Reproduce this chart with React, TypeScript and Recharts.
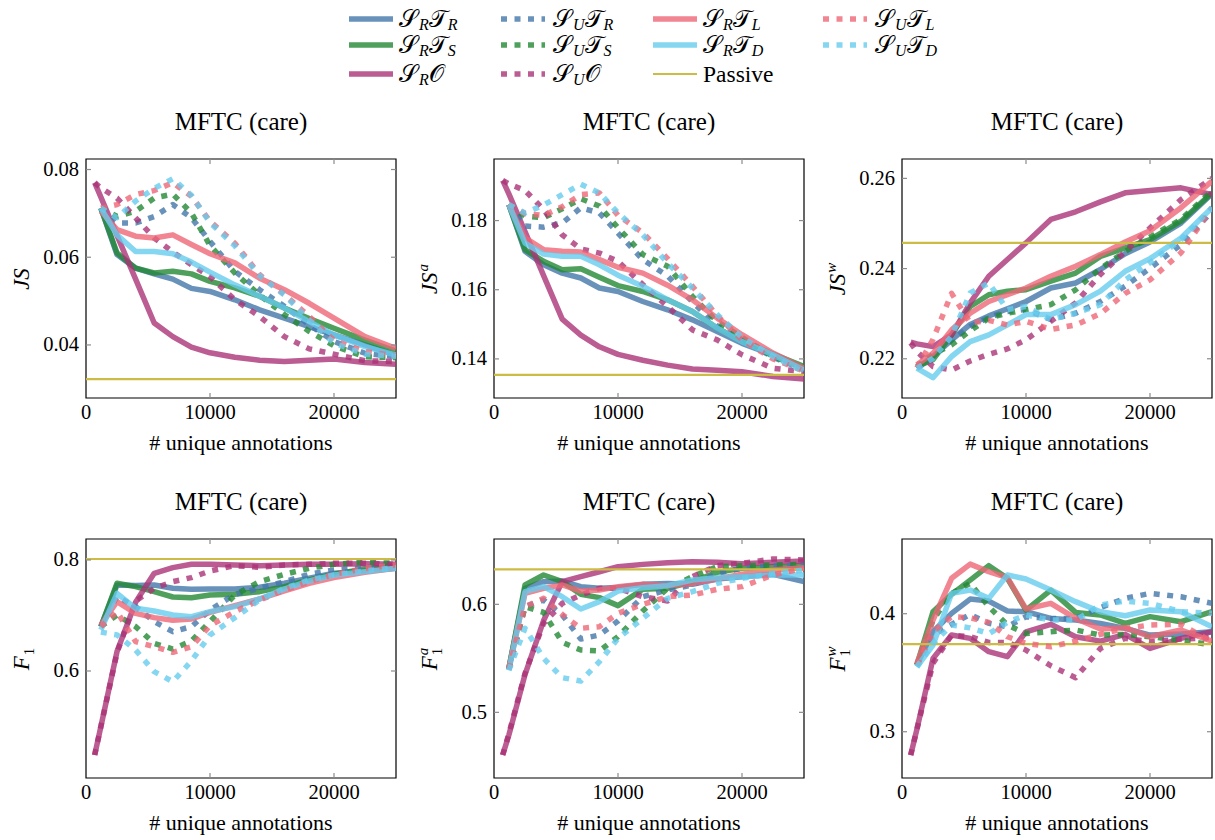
import React from 'react';
import { LineChart, Line, XAxis, YAxis, ReferenceLine, ReferenceArea } from 'recharts';

// ---------- data ----------
const X_VALUES = [700, 1200, 2500, 4000, 5500, 7000, 8500, 10000, 12000, 14000, 16000, 18000, 20000, 22500, 25000];
const X_TICKS = [0, 10000, 20000];
const PANEL_TITLES = ['MFTC (care)', 'MFTC (care)', 'MFTC (care)', 'MFTC (care)', 'MFTC (care)', 'MFTC (care)'];
const X_LABEL = '# unique annotations';

// JS
const JS_RTR = [null, 0.0712, 0.0606, 0.0575, 0.0562, 0.0550, 0.0529, 0.0522, 0.0503, 0.0480, 0.0461, 0.0442, 0.0423, 0.0400, 0.0377];
const JS_RTS = [null, 0.0712, 0.0610, 0.0575, 0.0564, 0.0568, 0.0562, 0.0545, 0.0530, 0.0511, 0.0484, 0.0460, 0.0438, 0.0411, 0.0386];
const JS_RO = [0.0770, 0.0737, 0.0650, 0.0550, 0.0450, 0.0419, 0.0395, 0.0382, 0.0372, 0.0365, 0.0362, 0.0365, 0.0368, 0.0360, 0.0356];
const JS_UTR = [null, 0.0712, 0.0678, 0.0678, 0.0693, 0.0720, 0.0690, 0.0636, 0.0568, 0.0526, 0.0488, 0.0446, 0.0408, 0.0381, 0.0373];
const JS_UTS = [null, 0.0712, 0.0693, 0.0705, 0.0735, 0.0744, 0.0701, 0.0627, 0.0564, 0.0514, 0.0469, 0.0431, 0.0398, 0.0373, 0.0371];
const JS_UO = [0.0770, 0.0758, 0.0735, 0.0690, 0.0644, 0.0612, 0.0583, 0.0556, 0.0503, 0.0465, 0.0419, 0.0391, 0.0379, 0.0364, 0.0362];
const JS_RTL = [null, 0.0705, 0.0663, 0.0648, 0.0644, 0.0651, 0.0629, 0.0608, 0.0587, 0.0552, 0.0526, 0.0495, 0.0461, 0.0419, 0.0392];
const JS_RTD = [null, 0.0712, 0.0651, 0.0613, 0.0613, 0.0608, 0.0589, 0.0566, 0.0537, 0.0511, 0.0484, 0.0453, 0.0423, 0.0396, 0.0377];
const JS_UTL = [null, 0.0712, 0.0720, 0.0743, 0.0752, 0.0770, 0.0739, 0.0682, 0.0632, 0.0560, 0.0515, 0.0465, 0.0410, 0.0385, 0.0375];
const JS_UTD = [null, 0.0712, 0.0690, 0.0728, 0.0757, 0.0779, 0.0741, 0.0679, 0.0626, 0.0558, 0.0514, 0.0457, 0.0404, 0.0379, 0.0374];
const JS_PASSIVE = 0.0322;

// JS^a
const JSA_RTR = [null, 0.1846, 0.1711, 0.1672, 0.1648, 0.1634, 0.1605, 0.1595, 0.1566, 0.1542, 0.1513, 0.1479, 0.1445, 0.1412, 0.1373];
const JSA_RTS = [null, 0.1846, 0.1716, 0.1682, 0.1658, 0.1661, 0.1636, 0.1612, 0.1595, 0.1571, 0.1537, 0.1489, 0.1452, 0.1414, 0.1378];
const JSA_RO = [0.1916, 0.1877, 0.1768, 0.1641, 0.1515, 0.1469, 0.1435, 0.1413, 0.1396, 0.1382, 0.1371, 0.1367, 0.1363, 0.1349, 0.1342];
const JSA_UTR = [null, 0.1846, 0.1784, 0.1781, 0.1793, 0.1837, 0.1822, 0.1764, 0.1687, 0.1640, 0.1565, 0.1495, 0.1455, 0.1405, 0.1368];
const JSA_UTS = [null, 0.1846, 0.1813, 0.1808, 0.1834, 0.1863, 0.1842, 0.1779, 0.1702, 0.1668, 0.1581, 0.1508, 0.1462, 0.1407, 0.1373];
const JSA_UO = [0.1916, 0.1906, 0.1887, 0.1832, 0.1759, 0.1718, 0.1706, 0.1682, 0.1615, 0.1552, 0.1484, 0.1455, 0.1412, 0.1373, 0.1363];
const JSA_RTL = [null, 0.1846, 0.1750, 0.1716, 0.1711, 0.1709, 0.1687, 0.1665, 0.1648, 0.1613, 0.1571, 0.1518, 0.1470, 0.1417, 0.1373];
const JSA_RTD = [null, 0.1846, 0.1735, 0.1703, 0.1697, 0.1697, 0.1672, 0.1642, 0.1610, 0.1571, 0.1537, 0.1489, 0.1450, 0.1412, 0.1368];
const JSA_UTL = [null, 0.1846, 0.1820, 0.1815, 0.1840, 0.1875, 0.1880, 0.1815, 0.1765, 0.1690, 0.1610, 0.1525, 0.1455, 0.1400, 0.1365];
const JSA_UTD = [null, 0.1846, 0.1822, 0.1845, 0.1875, 0.1905, 0.1880, 0.1822, 0.1759, 0.1677, 0.1605, 0.1528, 0.1462, 0.1407, 0.1363];
const JSA_PASSIVE = 0.1354;

// JS^w
const JSW_RTR = [null, 0.2179, 0.2205, 0.2242, 0.2276, 0.2295, 0.2311, 0.2327, 0.2357, 0.2368, 0.2398, 0.2433, 0.2459, 0.2501, 0.2566];
const JSW_RTS = [null, 0.2183, 0.2198, 0.2253, 0.2316, 0.2342, 0.2350, 0.2353, 0.2372, 0.2390, 0.2427, 0.2446, 0.2464, 0.2505, 0.2568];
const JSW_RO = [0.2237, 0.2233, 0.2227, 0.2253, 0.2324, 0.2383, 0.2420, 0.2457, 0.2509, 0.2526, 0.2548, 0.2568, 0.2573, 0.2579, 0.2564];
const JSW_UTR = [null, 0.2179, 0.2203, 0.2242, 0.2271, 0.2292, 0.2305, 0.2309, 0.2287, 0.2301, 0.2327, 0.2361, 0.2401, 0.2453, 0.2527];
const JSW_UTS = [null, 0.2183, 0.2210, 0.2231, 0.2262, 0.2290, 0.2301, 0.2309, 0.2320, 0.2353, 0.2400, 0.2438, 0.2470, 0.2509, 0.2572];
const JSW_UO = [0.2235, 0.2216, 0.2183, 0.2175, 0.2195, 0.2210, 0.2222, 0.2242, 0.2283, 0.2324, 0.2387, 0.2438, 0.2490, 0.2553, 0.2600];
const JSW_RTL = [null, 0.2187, 0.2212, 0.2264, 0.2301, 0.2327, 0.2342, 0.2357, 0.2383, 0.2405, 0.2431, 0.2459, 0.2484, 0.2535, 0.2594];
const JSW_RTD = [null, 0.2179, 0.2158, 0.2205, 0.2238, 0.2253, 0.2275, 0.2298, 0.2298, 0.2320, 0.2350, 0.2394, 0.2422, 0.2468, 0.2535];
const JSW_UTL = [null, 0.2180, 0.2243, 0.2345, 0.2280, 0.2285, 0.2275, 0.2283, 0.2265, 0.2275, 0.2300, 0.2345, 0.2375, 0.2435, 0.2535];
const JSW_UTD = [null, 0.2179, 0.2201, 0.2250, 0.2346, 0.2368, 0.2309, 0.2316, 0.2287, 0.2301, 0.2320, 0.2375, 0.2413, 0.2464, 0.2535];
const JSW_PASSIVE = 0.2457;

// F1
const F1_RTR = [null, 0.6799, 0.7550, 0.7538, 0.7550, 0.7490, 0.7471, 0.7477, 0.7477, 0.7508, 0.7580, 0.7670, 0.7760, 0.7802, 0.7850];
const F1_RTS = [null, 0.6799, 0.7580, 0.7520, 0.7429, 0.7333, 0.7321, 0.7369, 0.7381, 0.7429, 0.7520, 0.7640, 0.7742, 0.7838, 0.7898];
const F1_RO = [0.4486, 0.4997, 0.6350, 0.7240, 0.7760, 0.7862, 0.7922, 0.7922, 0.7910, 0.7898, 0.7910, 0.7922, 0.7922, 0.7934, 0.7922];
const F1_UTR = [null, 0.6800, 0.7339, 0.7159, 0.6889, 0.6709, 0.6799, 0.7099, 0.7381, 0.7489, 0.7610, 0.7742, 0.7820, 0.7862, 0.7898];
const F1_UTS = [null, 0.6800, 0.7009, 0.6799, 0.6498, 0.6396, 0.6541, 0.6889, 0.7369, 0.7610, 0.7742, 0.7850, 0.7922, 0.7958, 0.7940];
const F1_UO = [0.4486, 0.5000, 0.6330, 0.7260, 0.7490, 0.7610, 0.7682, 0.7802, 0.7898, 0.7868, 0.7910, 0.7922, 0.7940, 0.7940, 0.7922];
const F1_RTL = [null, 0.6829, 0.7249, 0.7039, 0.6961, 0.6913, 0.6937, 0.7057, 0.7177, 0.7297, 0.7441, 0.7580, 0.7682, 0.7778, 0.7850];
const F1_RTD = [null, 0.6739, 0.7400, 0.7129, 0.7081, 0.7009, 0.6979, 0.7069, 0.7159, 0.7297, 0.7477, 0.7622, 0.7730, 0.7790, 0.7850];
const F1_UTL = [null, 0.6800, 0.7069, 0.6529, 0.6438, 0.6336, 0.6438, 0.6817, 0.7069, 0.7279, 0.7459, 0.7610, 0.7742, 0.7850, 0.7910];
const F1_UTD = [null, 0.6700, 0.6650, 0.6378, 0.5988, 0.5808, 0.6180, 0.6649, 0.6961, 0.7279, 0.7489, 0.7640, 0.7730, 0.7802, 0.7862];
const F1_PASSIVE = 0.8018;

// F1^a
const F1A_RTR = [null, 0.5407, 0.6148, 0.6210, 0.6216, 0.6164, 0.6148, 0.6157, 0.6185, 0.6194, 0.6185, 0.6235, 0.6256, 0.6278, 0.6210];
const F1A_RTS = [null, 0.5407, 0.6179, 0.6272, 0.6210, 0.6093, 0.6062, 0.5988, 0.6139, 0.6148, 0.6210, 0.6296, 0.6333, 0.6349, 0.6358];
const F1A_RO = [0.4605, 0.4790, 0.5350, 0.5850, 0.6210, 0.6256, 0.6302, 0.6349, 0.6370, 0.6386, 0.6395, 0.6389, 0.6377, 0.6389, 0.6401];
const F1A_UTR = [null, 0.5400, 0.5978, 0.6040, 0.5901, 0.5679, 0.5716, 0.5846, 0.6071, 0.6133, 0.6179, 0.6287, 0.6333, 0.6358, 0.6364];
const F1A_UTS = [null, 0.5400, 0.5978, 0.5926, 0.5648, 0.5577, 0.5568, 0.5701, 0.5938, 0.6148, 0.6256, 0.6349, 0.6358, 0.6364, 0.6370];
const F1A_UO = [0.4605, 0.4802, 0.5361, 0.5824, 0.6009, 0.6086, 0.6148, 0.6148, 0.6071, 0.6031, 0.6256, 0.6358, 0.6380, 0.6420, 0.6410];
const F1A_RTL = [null, 0.5407, 0.6102, 0.6148, 0.6179, 0.6123, 0.6133, 0.6164, 0.6185, 0.6173, 0.6194, 0.6235, 0.6278, 0.6318, 0.6340];
const F1A_RTD = [null, 0.5390, 0.6117, 0.6164, 0.6071, 0.5957, 0.6025, 0.6123, 0.6154, 0.6173, 0.6225, 0.6247, 0.6256, 0.6272, 0.6272];
const F1A_UTL = [null, 0.5400, 0.5978, 0.6056, 0.5907, 0.5778, 0.5793, 0.5917, 0.6000, 0.6071, 0.6086, 0.6139, 0.6164, 0.6272, 0.6333];
const F1A_UTD = [null, 0.5390, 0.5778, 0.5500, 0.5321, 0.5290, 0.5469, 0.5685, 0.5870, 0.6056, 0.6117, 0.6194, 0.6241, 0.6287, 0.6318];
const F1A_PASSIVE = 0.6324;

// F1^w
const F1W_RTR = [null, 0.3565, 0.3847, 0.4003, 0.4124, 0.4107, 0.4023, 0.4017, 0.3960, 0.3946, 0.3918, 0.3876, 0.3819, 0.3828, 0.3847];
const F1W_RTS = [null, 0.3565, 0.4017, 0.4164, 0.4285, 0.4407, 0.4300, 0.4031, 0.4200, 0.4011, 0.3989, 0.3918, 0.3975, 0.3932, 0.4017];
const F1W_RO = [0.2802, 0.3020, 0.3620, 0.3819, 0.3791, 0.3678, 0.3636, 0.3847, 0.3910, 0.3805, 0.3768, 0.3825, 0.3706, 0.3791, 0.3847];
const F1W_UTR = [null, 0.3560, 0.3819, 0.3910, 0.3994, 0.3918, 0.3890, 0.3975, 0.3960, 0.3960, 0.4051, 0.4130, 0.4172, 0.4144, 0.4088];
const F1W_UTS = [null, 0.3565, 0.3946, 0.4172, 0.4257, 0.4059, 0.3904, 0.3833, 0.3847, 0.3862, 0.3819, 0.3825, 0.3805, 0.3777, 0.3734];
const F1W_UO = [0.2802, 0.3020, 0.3580, 0.3819, 0.3805, 0.3757, 0.3757, 0.3692, 0.3559, 0.3458, 0.3706, 0.3791, 0.3763, 0.3785, 0.3797];
const F1W_RTL = [null, 0.3579, 0.3946, 0.4300, 0.4420, 0.4356, 0.4305, 0.4040, 0.4088, 0.3960, 0.3870, 0.3881, 0.3805, 0.3862, 0.3768];
const F1W_RTD = [null, 0.3550, 0.3734, 0.4172, 0.4200, 0.4130, 0.4328, 0.4294, 0.4200, 0.4102, 0.4017, 0.3983, 0.4031, 0.4017, 0.3890];
const F1W_UTL = [null, 0.3565, 0.3847, 0.3975, 0.3966, 0.3927, 0.3805, 0.3749, 0.3720, 0.3768, 0.3825, 0.3876, 0.3904, 0.3910, 0.3763];
const F1W_UTD = [null, 0.3550, 0.3749, 0.3904, 0.3880, 0.3830, 0.3927, 0.3989, 0.3946, 0.3946, 0.4073, 0.4107, 0.4088, 0.4017, 0.4003];
const F1W_PASSIVE = 0.3743;

const Y_DOMAINS = [[0.0279, 0.0824], [0.1287, 0.1978], [0.2113, 0.2643], [0.4072, 0.8378], [0.4392, 0.6605], [0.2608, 0.4633]];
const Y_TICKS = [[0.04, 0.06, 0.08], [0.14, 0.16, 0.18], [0.22, 0.24, 0.26], [0.6, 0.8], [0.5, 0.6], [0.3, 0.4]];
const Y_TICK_DECIMALS = [2, 2, 2, 1, 1, 1];

// ---------- styling / layout ----------
const FONT = '"Liberation Serif", "Times New Roman", serif';
const MATH_FONT = '"DejaVu Serif", "DejaVu Sans", "Noto Sans", serif';
const LINE_W = 5.5;
const DOT_DASH = '6 7.5';
const OPACITY = 0.8;
const PW = 310;
const PH = 239;
const COL_X = [86, 494, 902];
const ROW_Y = [159, 539];
const ML = 80;
const MT = 50;
const TICK_FS = 20.5;

const SERIES = [
  { key: 'RTR', color: '#4477AA', dotted: false, s: 'R', t: 'T', tsub: 'R' },
  { key: 'RTS', color: '#228833', dotted: false, s: 'R', t: 'T', tsub: 'S' },
  { key: 'RO', color: '#AA3377', dotted: false, s: 'R', t: 'O', tsub: '' },
  { key: 'UTR', color: '#4477AA', dotted: true, s: 'U', t: 'T', tsub: 'R' },
  { key: 'UTS', color: '#228833', dotted: true, s: 'U', t: 'T', tsub: 'S' },
  { key: 'UO', color: '#AA3377', dotted: true, s: 'U', t: 'O', tsub: '' },
  { key: 'RTL', color: '#EE6677', dotted: false, s: 'R', t: 'T', tsub: 'L' },
  { key: 'RTD', color: '#66CCEE', dotted: false, s: 'R', t: 'T', tsub: 'D' },
  { key: 'UTL', color: '#EE6677', dotted: true, s: 'U', t: 'T', tsub: 'L' },
  { key: 'UTD', color: '#66CCEE', dotted: true, s: 'U', t: 'T', tsub: 'D' },
];
const PASSIVE_COLOR = '#CCBB44';

const PANELS = [
  { series: { RTR: JS_RTR, RTS: JS_RTS, RO: JS_RO, UTR: JS_UTR, UTS: JS_UTS, UO: JS_UO, RTL: JS_RTL, RTD: JS_RTD, UTL: JS_UTL, UTD: JS_UTD }, passive: JS_PASSIVE, yl: { base: 'JS', sup: '', sub: '' } },
  { series: { RTR: JSA_RTR, RTS: JSA_RTS, RO: JSA_RO, UTR: JSA_UTR, UTS: JSA_UTS, UO: JSA_UO, RTL: JSA_RTL, RTD: JSA_RTD, UTL: JSA_UTL, UTD: JSA_UTD }, passive: JSA_PASSIVE, yl: { base: 'JS', sup: 'a', sub: '' } },
  { series: { RTR: JSW_RTR, RTS: JSW_RTS, RO: JSW_RO, UTR: JSW_UTR, UTS: JSW_UTS, UO: JSW_UO, RTL: JSW_RTL, RTD: JSW_RTD, UTL: JSW_UTL, UTD: JSW_UTD }, passive: JSW_PASSIVE, yl: { base: 'JS', sup: 'w', sub: '' } },
  { series: { RTR: F1_RTR, RTS: F1_RTS, RO: F1_RO, UTR: F1_UTR, UTS: F1_UTS, UO: F1_UO, RTL: F1_RTL, RTD: F1_RTD, UTL: F1_UTL, UTD: F1_UTD }, passive: F1_PASSIVE, yl: { base: 'F', sup: '', sub: '1' } },
  { series: { RTR: F1A_RTR, RTS: F1A_RTS, RO: F1A_RO, UTR: F1A_UTR, UTS: F1A_UTS, UO: F1A_UO, RTL: F1A_RTL, RTD: F1A_RTD, UTL: F1A_UTL, UTD: F1A_UTD }, passive: F1A_PASSIVE, yl: { base: 'F', sup: 'a', sub: '1' } },
  { series: { RTR: F1W_RTR, RTS: F1W_RTS, RO: F1W_RO, UTR: F1W_UTR, UTS: F1W_UTS, UO: F1W_UO, RTL: F1W_RTL, RTD: F1W_RTD, UTL: F1W_UTL, UTD: F1W_UTD }, passive: F1W_PASSIVE, yl: { base: 'F', sup: 'w', sub: '1' } },
];

const TICK_COLOR = '#8c8c8c';

function XTick(props: any) {
  const { x, y, payload } = props;
  return (
    <g>
      {payload.value !== 0 && <line x1={x} x2={x} y1={y} y2={y - 5} stroke={TICK_COLOR} strokeWidth={1.2} />}
      {payload.value !== 0 && <line x1={x} x2={x} y1={y - PH} y2={y - PH + 5} stroke={TICK_COLOR} strokeWidth={1.2} />}
      <text x={x} y={y + 21} textAnchor="middle" fontFamily={FONT} fontSize={TICK_FS} fill="#000">{payload.value}</text>
    </g>
  );
}

function YTick(props: any) {
  const { x, y, payload, decimals } = props;
  return (
    <g>
      <line x1={x} x2={x + 5} y1={y} y2={y} stroke={TICK_COLOR} strokeWidth={1.2} />
      <line x1={x + PW} x2={x + PW - 5} y1={y} y2={y} stroke={TICK_COLOR} strokeWidth={1.2} />
      <text x={x - 7} y={y + 6.5} textAnchor="end" fontFamily={FONT} fontSize={TICK_FS} fill="#000">{Number(payload.value).toFixed(decimals)}</text>
    </g>
  );
}

function YLabel({ yl }: any) {
  return (
    <span style={{ fontFamily: FONT, fontSize: 23, fontStyle: 'italic', whiteSpace: 'nowrap', display: 'inline-flex', alignItems: 'center' }}>
      <span>{yl.base}</span>
      {(yl.sup || yl.sub) && (
        <span style={{ display: 'inline-flex', flexDirection: 'column', fontSize: 15, lineHeight: '14px', marginLeft: 1 }}>
          <span style={{ visibility: yl.sup ? 'visible' : 'hidden' }}>{yl.sup || 'a'}</span>
          <span style={{ fontStyle: 'normal', visibility: yl.sub ? 'visible' : 'hidden' }}>{yl.sub || '1'}</span>
        </span>
      )}
    </span>
  );
}

function Panel({ idx }: { idx: number }) {
  const p = PANELS[idx];
  const col = idx % 3;
  const row = Math.floor(idx / 3);
  const bx = COL_X[col];
  const by = ROW_Y[row];
  const rows = X_VALUES.map((x, i) => {
    const r: any = { x };
    SERIES.forEach((s) => { r[s.key] = (p.series as any)[s.key][i]; });
    return r;
  });
  const dom = Y_DOMAINS[idx];
  const lines = SERIES.map((s) => (
    <Line key={s.key} type="linear" dataKey={s.key} stroke={s.color} strokeWidth={LINE_W} strokeOpacity={OPACITY}
      strokeDasharray={s.dotted ? DOT_DASH : undefined} strokeLinejoin="round" dot={false} activeDot={false}
      isAnimationActive={false} connectNulls={false} />
  ));
  return (
    <>
      <div style={{ position: 'absolute', left: bx - 20, width: PW + 40, top: by - 52, textAlign: 'center', fontFamily: FONT, fontSize: 25, lineHeight: '30px' }}>{PANEL_TITLES[idx]}</div>
      <div style={{ position: 'absolute', left: bx - 20, width: PW + 40, top: by + PH + 31, textAlign: 'center', fontFamily: FONT, fontSize: 22, lineHeight: '28px' }}>{X_LABEL}</div>
      <div style={{ position: 'absolute', left: bx - 64, top: by + PH / 2, transform: 'translate(-50%, -50%) rotate(-90deg)' }}>
        <YLabel yl={p.yl} />
      </div>
      <div style={{ position: 'absolute', left: bx - ML, top: by - MT }}>
        <LineChart width={ML + PW + 10} height={MT + PH + 60} data={rows} margin={{ top: MT, right: 10, left: 0, bottom: 0 }}>
          <XAxis dataKey="x" type="number" domain={[0, 25000]} ticks={X_TICKS} interval={0} allowDataOverflow
            axisLine={false} tickLine={false} tickSize={0} tickMargin={0} height={60} tick={<XTick />} />
          <YAxis type="number" domain={dom} ticks={Y_TICKS[idx]} interval={0} allowDataOverflow
            axisLine={false} tickLine={false} tickSize={0} tickMargin={0} width={ML} tick={<YTick decimals={Y_TICK_DECIMALS[idx]} />} />
          <ReferenceArea x1={0} x2={25000} y1={dom[0]} y2={dom[1]} fill="none" stroke="#000" strokeWidth={1.2} ifOverflow="visible" />
          {lines.slice(0, 8)}
          <ReferenceLine y={p.passive} stroke={PASSIVE_COLOR} strokeWidth={2.2} ifOverflow="visible" />
          {lines.slice(8)}
        </LineChart>
      </div>
    </>
  );
}

const LEGEND_COLS = [349, 501, 653, 823];
const LEGEND_ROWS = [19, 45, 74];

function LegendItem({ col, row, color, dotted, thin, children }: any) {
  const x = LEGEND_COLS[col];
  const y = LEGEND_ROWS[row];
  return (
    <>
      <svg style={{ position: 'absolute', left: x, top: y - 5 }} width={44} height={10}>
        <line x1={0} x2={44} y1={5} y2={5} stroke={color} strokeWidth={thin ? 2.2 : LINE_W} strokeOpacity={thin ? 1 : OPACITY}
          strokeDasharray={dotted ? DOT_DASH : undefined} />
      </svg>
      <div style={{ position: 'absolute', left: x + (dotted ? 52 : 50), top: y - 12, height: 24, lineHeight: '24px', fontFamily: FONT, fontSize: 23.5, whiteSpace: 'nowrap' }}>
        {children}
      </div>
    </>
  );
}

function MathName({ s, t, tsub }: any) {
  const cal: any = { S: '\u{1D4AE}', T: '\u{1D4AF}', O: '\u{1D4AA}' };
  const subStyle: any = { fontFamily: FONT, fontStyle: 'italic', fontSize: 16, verticalAlign: 'baseline', position: 'relative', top: 3, marginLeft: 1, lineHeight: '0px' };
  return (
    <span style={{ fontFamily: MATH_FONT, fontSize: 24, lineHeight: '24px' }}>
      {cal.S}<span style={subStyle}>{s}</span>
      {cal[t]}{tsub && <span style={subStyle}>{tsub}</span>}
    </span>
  );
}

function Legend() {
  const items: any[] = [];
  SERIES.forEach((s, i) => {
    const pos = i < 8 ? i : i + 1;
    const col = Math.floor(pos / 3);
    const row = pos % 3;
    items.push(
      <LegendItem key={s.key} col={col} row={row} color={s.color} dotted={s.dotted}>
        <MathName s={s.s} t={s.t} tsub={s.tsub} />
      </LegendItem>
    );
  });
  items.push(
    <LegendItem key="passive" col={2} row={2} color={PASSIVE_COLOR} thin>
      <span>Passive</span>
    </LegendItem>
  );
  return <>{items}</>;
}

export default function App() {
  return (
    <div style={{ position: 'absolute', left: 0, top: 0, width: 1215, height: 840, background: '#fff', overflow: 'hidden' }}>
      <Legend />
      {PANELS.map((_, i) => <Panel key={i} idx={i} />)}
    </div>
  );
}
